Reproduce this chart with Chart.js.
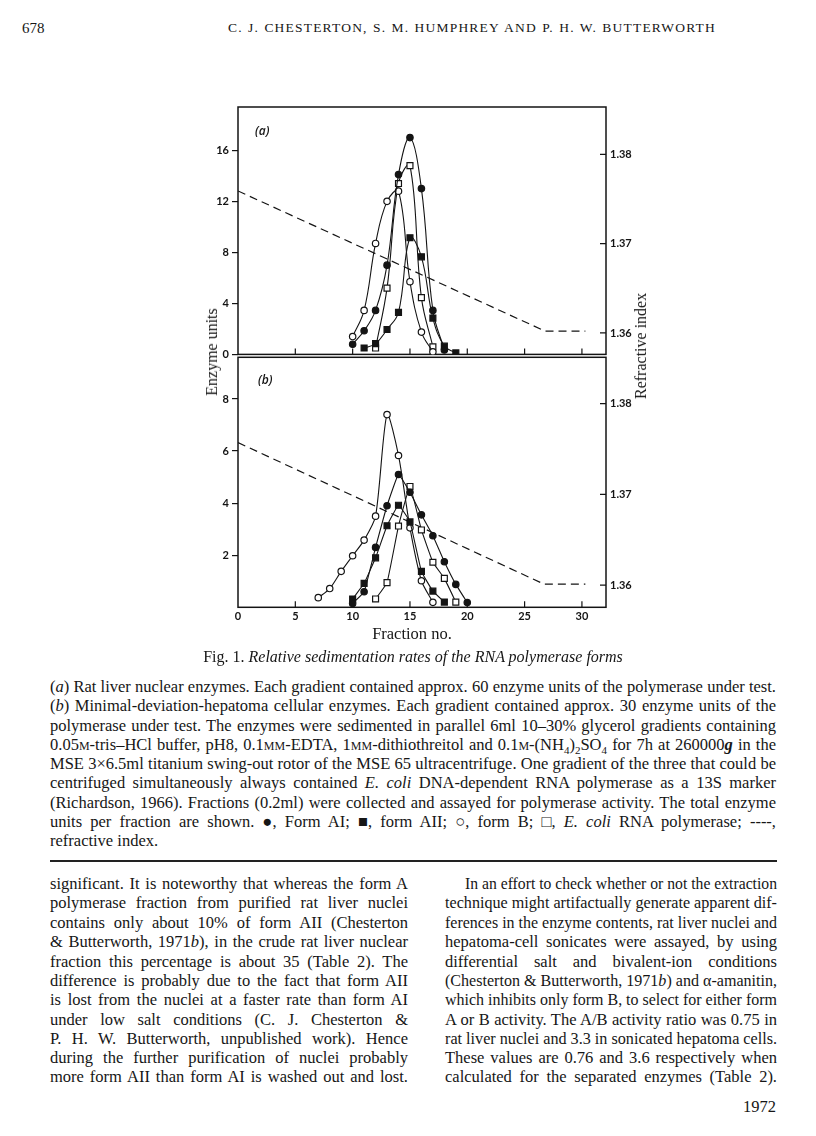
<!DOCTYPE html>
<html>
<head>
<meta charset="utf-8">
<script src="https://cdn.jsdelivr.net/npm/chart.js@4.4.1/dist/chart.umd.min.js"></script>
<style>
  html, body { margin: 0; padding: 0; background: #fff; }
  body { width: 816px; height: 1136px; position: relative; overflow: hidden;
         font-family: "Liberation Serif", "Times New Roman", serif; color: #161616; }
  canvas { position: absolute; }
  .t { position: absolute; white-space: nowrap; line-height: 20px; }
  .ln { position: absolute; white-space: nowrap; font-size: 16.5px; line-height: 20px; }
  .ln span { display: inline-block; transform-origin: 0 50%; }
  .sc { font-variant: small-caps; }
  .rot { position: absolute; transform: translate(-50%, -50%) rotate(-90deg); white-space: nowrap;
         font-size: 16px; }
  .plab { position: absolute; font-family: "Open Sans", sans-serif; font-style: italic;
          font-weight: 600; font-size: 12px; }
</style>
</head>
<body>

<div class="t" style="left:22px; top:18px; font-size:15px;">678</div>
<div class="ln" id="hdr" data-w="488" style="left:228px; top:18px; font-size:13.5px; letter-spacing:1.2px;"><span>C. J. CHESTERTON, S. M. HUMPHREY AND P. H. W. BUTTERWORTH</span></div>

<canvas id="panelA" width="540" height="270" style="left:150px; top:95px;"></canvas>
<canvas id="panelB" width="540" height="290" style="left:150px; top:345px;"></canvas>

<div class="plab" style="left:255px; top:122px;">(a)</div>
<div class="plab" style="left:258px; top:371px;">(b)</div>
<div class="rot" style="left:212px; top:352px;">Enzyme units</div>
<div class="rot" style="left:641px; top:346px;">Refractive index</div>
<div class="t" style="left:412px; top:624px; font-size:16.5px; transform:translateX(-50%);">Fraction no.</div>

<div class="t" style="left:413px; top:647px; font-size:16px; transform:translateX(-50%);">Fig. 1. <i>Relative sedimentation rates of the RNA polymerase forms</i></div>

<div class="ln j" data-w="726" style="left:50px; top:677px;"><span>(<i>a</i>) Rat liver nuclear enzymes. Each gradient contained approx. 60 enzyme units of the polymerase under test.</span></div>
<div class="ln j" data-w="726" style="left:50px; top:696px;"><span>(<i>b</i>) Minimal-deviation-hepatoma cellular enzymes. Each gradient contained approx. 30 enzyme units of the</span></div>
<div class="ln j" data-w="726" style="left:50px; top:716px;"><span>polymerase under test. The enzymes were sedimented in parallel 6ml 10–30% glycerol gradients containing</span></div>
<div class="ln j" data-w="726" style="left:50px; top:735px;"><span>0.05<span class="sc">m</span>-tris–HCl buffer, pH8, 0.1<span class="sc">mm</span>-EDTA, 1<span class="sc">mm</span>-dithiothreitol and 0.1<span class="sc">m</span>-(NH<sub style="font-size:11px">4</sub>)<sub style="font-size:11px">2</sub>SO<sub style="font-size:11px">4</sub> for 7h at 260000<b><i>g</i></b> in the</span></div>
<div class="ln j" data-w="726" style="left:50px; top:754px;"><span>MSE 3×6.5ml titanium swing-out rotor of the MSE 65 ultracentrifuge. One gradient of the three that could be</span></div>
<div class="ln j" data-w="726" style="left:50px; top:773px;"><span>centrifuged simultaneously always contained <i>E. coli</i> DNA-dependent RNA polymerase as a 13S marker</span></div>
<div class="ln j" data-w="726" style="left:50px; top:793px;"><span>(Richardson, 1966). Fractions (0.2ml) were collected and assayed for polymerase activity. The total enzyme</span></div>
<div class="ln j" data-w="726" style="left:50px; top:812px;"><span>units per fraction are shown. ●, Form AI; ■, form AII; ○, form B; □, <i>E. coli</i> RNA polymerase; ----,</span></div>
<div class="ln" data-w="726" style="left:50px; top:831px;"><span>refractive index.</span></div>

<div style="position:absolute; left:50px; top:860px; width:727px; height:2px; background:#222;"></div>

<div class="ln j" data-w="358" style="left:50px; top:874px;"><span>significant. It is noteworthy that whereas the form A</span></div>
<div class="ln j" data-w="358" style="left:50px; top:893px;"><span>polymerase fraction from purified rat liver nuclei</span></div>
<div class="ln j" data-w="358" style="left:50px; top:913px;"><span>contains only about 10% of form AII (Chesterton</span></div>
<div class="ln j" data-w="358" style="left:50px; top:932px;"><span>&amp; Butterworth, 1971<i>b</i>), in the crude rat liver nuclear</span></div>
<div class="ln j" data-w="358" style="left:50px; top:952px;"><span>fraction this percentage is about 35 (Table 2). The</span></div>
<div class="ln j" data-w="358" style="left:50px; top:971px;"><span>difference is probably due to the fact that form AII</span></div>
<div class="ln j" data-w="358" style="left:50px; top:990px;"><span>is lost from the nuclei at a faster rate than form AI</span></div>
<div class="ln j" data-w="358" style="left:50px; top:1010px;"><span>under low salt conditions (C. J. Chesterton &amp;</span></div>
<div class="ln j" data-w="358" style="left:50px; top:1029px;"><span>P. H. W. Butterworth, unpublished work). Hence</span></div>
<div class="ln j" data-w="358" style="left:50px; top:1048px;"><span>during the further purification of nuclei probably</span></div>
<div class="ln j" data-w="358" style="left:50px; top:1067px;"><span>more form AII than form AI is washed out and lost.</span></div>

<div class="ln j" data-w="312" style="left:465px; top:874px;"><span>In an effort to check whether or not the extraction</span></div>
<div class="ln j" data-w="332" style="left:445px; top:893px;"><span>technique might artifactually generate apparent dif-</span></div>
<div class="ln j" data-w="332" style="left:445px; top:913px;"><span>ferences in the enzyme contents, rat liver nuclei and</span></div>
<div class="ln j" data-w="332" style="left:445px; top:932px;"><span>hepatoma-cell sonicates were assayed, by using</span></div>
<div class="ln j" data-w="332" style="left:445px; top:952px;"><span>differential salt and bivalent-ion conditions</span></div>
<div class="ln j" data-w="332" style="left:445px; top:971px;"><span>(Chesterton &amp; Butterworth, 1971<i>b</i>) and α-amanitin,</span></div>
<div class="ln j" data-w="332" style="left:445px; top:990px;"><span>which inhibits only form B, to select for either form</span></div>
<div class="ln j" data-w="332" style="left:445px; top:1010px;"><span>A or B activity. The A/B activity ratio was 0.75 in</span></div>
<div class="ln j" data-w="332" style="left:445px; top:1029px;"><span>rat liver nuclei and 3.3 in sonicated hepatoma cells.</span></div>
<div class="ln j" data-w="332" style="left:445px; top:1048px;"><span>These values are 0.76 and 3.6 respectively when</span></div>
<div class="ln j" data-w="332" style="left:445px; top:1067px;"><span>calculated for the separated enzymes (Table 2).</span></div>

<div class="t" style="left:743px; top:1097px; font-size:16.5px;">1972</div>

<script>
// axis ticks
const FRACTION_TICKS = [0, 5, 10, 15, 20, 25, 30];
const UNITS_TICKS_A = [0, 4, 8, 12, 16];
const UNITS_TICKS_B = [2, 4, 6, 8];
const RI_TICKS = [1.36, 1.37, 1.38];

// (a) rat liver nuclear enzymes
const A_AI_X = [10, 11, 12, 13, 14, 15, 16, 17, 18];
const A_AI_Y = [0.8, 1.85, 3.45, 7.0, 14.1, 17.0, 13.0, 3.45, 0.35];
const A_AII_X = [11, 12, 13, 14, 15, 16, 17, 18, 19];
const A_AII_Y = [0.5, 0.85, 1.95, 3.3, 9.15, 7.65, 2.85, 0.65, 0.12];
const A_B_X = [10, 11, 12, 13, 14, 15, 16, 17];
const A_B_Y = [1.4, 3.45, 8.7, 12.0, 12.8, 5.7, 1.75, 0.2];
const A_COLI_X = [12, 13, 14, 15, 16, 17];
const A_COLI_Y = [0.5, 5.2, 13.4, 14.8, 4.45, 0.6];
const A_RI_X = [0, 26.8, 30.3];
const A_RI_Y = [1.3759, 1.3602, 1.3602];

// (b) minimal-deviation-hepatoma cellular enzymes
const B_AI_X = [10, 11, 12, 13, 14, 15, 16, 17, 18, 19, 20];
const B_AI_Y = [0.15, 0.6, 2.3, 3.9, 5.1, 4.42, 3.55, 2.75, 1.75, 0.88, 0.18];
const B_AII_X = [10, 11, 12, 13, 14, 15, 16, 17, 18];
const B_AII_Y = [0.32, 0.92, 1.9, 3.13, 3.92, 3.28, 1.38, 0.62, 0.2];
const B_B_X = [7, 8, 9, 10, 11, 12, 13, 14, 15, 16, 17];
const B_B_Y = [0.37, 0.72, 1.38, 1.98, 2.58, 3.5, 7.4, 5.83, 3.05, 1.02, 0.19];
const B_COLI_X = [12, 13, 14, 15, 16, 17, 18, 19];
const B_COLI_Y = [0.32, 0.95, 3.12, 4.64, 2.97, 1.73, 1.11, 0.2];
const B_RI_X = [0, 26.7, 30.3];
const B_RI_Y = [1.3757, 1.3601, 1.3601];

const INK = '#141414';
const tickFont = { family: 'Lato', weight: 'bold', size: 11 };

function pts(xs, ys) {
    return xs.map((x, i) => ({ x: x, y: ys[i] }));
}

function series(xs, ys, style, filled, tension) {
    return {
        data: pts(xs, ys),
        yAxisID: 'y',
        borderColor: INK,
        borderWidth: 1.1,
        tension: tension,
        pointStyle: style,
        pointRadius: style === 'rect' ? 4.2 : 3.2,
        pointBorderWidth: 1.2,
        pointBorderColor: INK,
        pointBackgroundColor: filled ? INK : '#fff'
    };
}

function riLine(xs, ys) {
    return {
        data: pts(xs, ys),
        yAxisID: 'ri',
        borderColor: INK,
        borderWidth: 1.2,
        borderDash: [8, 5],
        pointRadius: 0,
        tension: 0
    };
}

// frame round the plot plus the inward tick marks on the bottom and right
const frameTicks = {
    id: 'frameTicks',
    beforeDatasetsDraw(chart) {
        const ctx = chart.ctx;
        const a = chart.chartArea;
        const sx = chart.scales.x;
        const sr = chart.scales.ri;
        ctx.save();
        ctx.strokeStyle = INK;
        ctx.lineWidth = 1.5;
        ctx.strokeRect(a.left, a.top, a.right - a.left, a.bottom - a.top);
        ctx.lineWidth = 1.2;
        ctx.beginPath();
        FRACTION_TICKS.forEach(v => {
            if (v <= 0) return;
            const px = sx.getPixelForValue(v);
            ctx.moveTo(px, a.bottom);
            ctx.lineTo(px, a.bottom - 6);
        });
        RI_TICKS.forEach(v => {
            const py = sr.getPixelForValue(v);
            ctx.moveTo(a.right - 6, py);
            ctx.lineTo(a.right, py);
        });
        ctx.stroke();
        ctx.restore();
    }
};

function createPanel(canvasId, datasets, opt) {
    const ctx = document.getElementById(canvasId).getContext('2d');

    return new Chart(ctx, {
        type: 'line',
        data: { datasets: datasets },
        plugins: [frameTicks],
        options: {
            responsive: false,
            animation: false,
            layout: { padding: { top: opt.padTop, left: 0, right: 0, bottom: 0 } },
            plugins: {
                legend: { display: false },
                tooltip: { enabled: false }
            },
            scales: {
                x: {
                    type: 'linear',
                    min: 0,
                    max: 32.1,
                    afterBuildTicks: s => { s.ticks = FRACTION_TICKS.map(v => ({ value: v })); },
                    afterFit: s => { s.height = opt.xHeight; },
                    grid: { display: false, drawTicks: false },
                    border: { display: false },
                    ticks: {
                        display: opt.xLabels,
                        padding: 3,
                        color: INK,
                        font: tickFont,
                        maxRotation: 0
                    }
                },
                y: {
                    type: 'linear',
                    position: 'left',
                    min: 0,
                    max: opt.unitsMax,
                    afterBuildTicks: s => { s.ticks = opt.unitsTicks.map(v => ({ value: v })); },
                    afterFit: s => { s.width = 88; },
                    grid: {
                        drawOnChartArea: false,
                        drawTicks: true,
                        tickLength: 6,
                        color: INK,
                        lineWidth: 1.2
                    },
                    border: { display: false },
                    ticks: { padding: 3, color: INK, font: tickFont }
                },
                ri: {
                    type: 'linear',
                    position: 'right',
                    min: opt.riMin,
                    max: opt.riMax,
                    afterBuildTicks: s => { s.ticks = RI_TICKS.map(v => ({ value: v })); },
                    afterFit: s => { s.width = 84; },
                    grid: { display: false, drawTicks: false },
                    border: { display: false },
                    ticks: {
                        padding: 4,
                        color: INK,
                        font: tickFont,
                        callback: v => v.toFixed(2)
                    }
                }
            }
        }
    });
}

createPanel('panelA', [
    series(A_AI_X, A_AI_Y, 'circle', true, 0.4),
    series(A_AII_X, A_AII_Y, 'rect', true, 0.4),
    series(A_B_X, A_B_Y, 'circle', false, 0.4),
    series(A_COLI_X, A_COLI_Y, 'rect', false, 0.4),
    riLine(A_RI_X, A_RI_Y)
], { padTop: 12, xHeight: 7.7, xLabels: false, unitsMax: 19.4, unitsTicks: UNITS_TICKS_A,
     riMin: 1.3576, riMax: 1.3853 });

createPanel('panelB', [
    series(B_AI_X, B_AI_Y, 'circle', true, 0.1),
    series(B_AII_X, B_AII_Y, 'rect', true, 0.1),
    series(B_B_X, B_B_Y, 'circle', false, 0.25),
    series(B_COLI_X, B_COLI_Y, 'rect', false, 0.1),
    riLine(B_RI_X, B_RI_Y)
], { padTop: 12.3, xHeight: 27.7, xLabels: true, unitsMax: 9.6, unitsTicks: UNITS_TICKS_B,
     riMin: 1.35755, riMax: 1.3851 });

// stretch or squeeze each text line to its measured width in the scan
function fitLines() {
    document.querySelectorAll('.ln').forEach(el => {
        const span = el.firstElementChild;
        const target = parseFloat(el.dataset.w);
        const w = span.getBoundingClientRect().width;
        if (w > target) {
            span.style.transform = 'scaleX(' + (target / w) + ')';
        } else if (el.classList.contains('j') || el.id === 'hdr') {
            const gaps = (span.textContent.match(/ /g) || []).length;
            if (gaps > 0) span.style.wordSpacing = ((target - w) / gaps) + 'px';
        }
    });
}
document.fonts.ready.then(fitLines);
</script>
</body>
</html>
